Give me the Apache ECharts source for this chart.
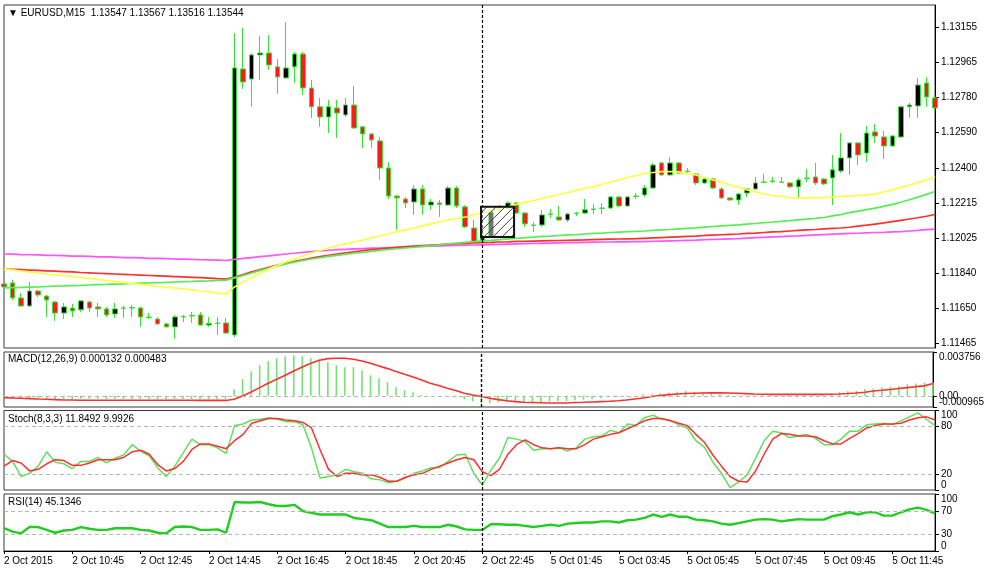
<!DOCTYPE html>
<html><head><meta charset="utf-8">
<script src="https://cdn.jsdelivr.net/npm/echarts@6/dist/echarts.min.js"></script>
<style>html,body{margin:0;padding:0;background:#fff}#c{width:987px;height:571px}</style>
</head><body><div id="c"></div>
<script>
const FONT = 'Liberation Sans, Arial, DejaVu Sans, sans-serif';
const headerText = '\u25BC EURUSD,M15  1.13547 1.13567 1.13516 1.13544';
const macdTitle = 'MACD(12,26,9) 0.000132 0.000483';
const stochTitle = 'Stoch(8,3,3) 11.8492 9.9926';
const rsiTitle = 'RSI(14) 45.1346';

// bar sessions: [day label, first bar minute of day, number of bars]
const sessions = [['2 Oct', 8 * 60 + 45, 61], ['5 Oct', 60, 49]];
const xTickLabels = ['2 Oct 2015', '2 Oct 10:45', '2 Oct 12:45', '2 Oct 14:45', '2 Oct 16:45', '2 Oct 18:45', '2 Oct 20:45',
  '2 Oct 22:45', '5 Oct 01:45', '5 Oct 03:45', '5 Oct 05:45', '5 Oct 07:45', '5 Oct 09:45', '5 Oct 11:45'];
const xTickEvery = 8;

const priceTicks = [1.13155, 1.12965, 1.12780, 1.12590, 1.12400, 1.12215, 1.12025, 1.11840, 1.11650, 1.11465];
const priceRange = [1.11438, 1.13273];
const macdRange = [-0.000965, 0.003756];
const macdZeroTick = [0];
const stochTicks = [0, 20, 80, 100];
const stochLevels = [20, 80];
const rsiTicks = [0, 30, 70, 100];
const rsiLevels = [30, 70];

// [open, close, low, high]
const ohlc = [
[1.11781,1.11765,1.11749,1.11797],[1.11786,1.11706,1.11695,1.11802],[1.11706,1.11663,1.11658,1.11732],[1.11663,1.11743,1.11658,1.11791],
[1.11743,1.11722,1.11711,1.11749],[1.11716,1.11695,1.11604,1.11722],[1.11684,1.11625,1.11583,1.11690],[1.11625,1.11658,1.11593,1.11679],
[1.11652,1.11636,1.11604,1.11674],[1.11642,1.11690,1.11631,1.11695],[1.11684,1.11652,1.11631,1.11690],[1.11658,1.11647,1.11604,1.11679],
[1.11647,1.11615,1.11604,1.11658],[1.11620,1.11647,1.11599,1.11679],[1.11652,1.11650,1.11599,1.11663],[1.11652,1.11655,1.11604,1.11668],
[1.11652,1.11604,1.11551,1.11658],[1.11604,1.11601,1.11593,1.11625],[1.11593,1.11567,1.11561,1.11604],[1.11567,1.11551,1.11548,1.11572],
[1.11551,1.11604,1.11486,1.11615],[1.11604,1.11607,1.11577,1.11615],[1.11609,1.11612,1.11572,1.11631],[1.11615,1.11561,1.11556,1.11631],
[1.11561,1.11569,1.11551,1.11604],[1.11572,1.11569,1.11508,1.11604],[1.11572,1.11518,1.11513,1.11599],[1.11508,1.12936,1.11497,1.13123],
[1.12931,1.12861,1.12824,1.13150],[1.12877,1.13006,1.12728,1.13016],[1.13006,1.13016,1.12872,1.13107],[1.13016,1.12952,1.12926,1.13113],
[1.12942,1.12888,1.12797,1.12984],[1.12883,1.12936,1.12877,1.13182],[1.12942,1.13011,1.12856,1.13022],[1.13011,1.12829,1.12792,1.13022],
[1.12829,1.12728,1.12669,1.12872],[1.12728,1.12674,1.12621,1.12776],[1.12674,1.12728,1.12588,1.12765],[1.12722,1.12695,1.12562,1.12765],
[1.12685,1.12738,1.12674,1.12776],[1.12738,1.12615,1.12610,1.12840],[1.12621,1.12583,1.12508,1.12626],[1.12583,1.12551,1.12508,1.12588],
[1.12546,1.12401,1.12337,1.12567],[1.12401,1.12251,1.12235,1.12433],[1.12251,1.12241,1.12070,1.12257],[1.12235,1.12214,1.12187,1.12246],
[1.12219,1.12289,1.12150,1.12310],[1.12289,1.12203,1.12150,1.12310],[1.12203,1.12219,1.12177,1.12235],[1.12214,1.12206,1.12139,1.12230],
[1.12203,1.12294,1.12198,1.12305],[1.12294,1.12198,1.12187,1.12305],[1.12193,1.12086,1.12080,1.12203],[1.12080,1.12005,1.12000,1.12123],
[1.12005,1.12032,1.12000,1.12053],[1.12032,1.12166,1.12027,1.12177],[1.12193,1.12182,1.12171,1.12203],[1.12187,1.12214,1.12182,1.12225],
[1.12214,1.12160,1.12155,1.12219],[1.12160,1.12102,1.12086,1.12166],[1.12096,1.12094,1.12059,1.12112],[1.12096,1.12150,1.12086,1.12177],
[1.12155,1.12152,1.12134,1.12182],[1.12139,1.12123,1.12118,1.12198],[1.12123,1.12155,1.12112,1.12160],[1.12160,1.12158,1.12144,1.12166],
[1.12160,1.12177,1.12155,1.12235],[1.12182,1.12179,1.12155,1.12209],[1.12187,1.12185,1.12155,1.12214],[1.12187,1.12246,1.12182,1.12251],
[1.12246,1.12198,1.12193,1.12251],[1.12198,1.12246,1.12193,1.12251],[1.12251,1.12249,1.12235,1.12267],[1.12257,1.12294,1.12246,1.12310],
[1.12294,1.12417,1.12289,1.12428],[1.12428,1.12364,1.12358,1.12433],[1.12364,1.12428,1.12358,1.12460],[1.12428,1.12374,1.12369,1.12433],
[1.12385,1.12382,1.12374,1.12401],[1.12369,1.12321,1.12310,1.12374],[1.12321,1.12342,1.12316,1.12348],[1.12342,1.12294,1.12289,1.12348],
[1.12289,1.12241,1.12235,1.12300],[1.12241,1.12230,1.12225,1.12246],[1.12230,1.12262,1.12203,1.12267],[1.12267,1.12289,1.12246,1.12294],
[1.12289,1.12321,1.12284,1.12353],[1.12326,1.12324,1.12321,1.12369],[1.12332,1.12329,1.12321,1.12353],[1.12326,1.12324,1.12321,1.12353],
[1.12321,1.12300,1.12294,1.12326],[1.12300,1.12337,1.12241,1.12348],[1.12348,1.12345,1.12326,1.12396],[1.12353,1.12321,1.12310,1.12428],
[1.12342,1.12316,1.12310,1.12348],[1.12348,1.12391,1.12203,1.12471],[1.12385,1.12455,1.12374,1.12588],[1.12455,1.12535,1.12364,1.12540],
[1.12535,1.12471,1.12417,1.12540],[1.12481,1.12588,1.12433,1.12626],[1.12594,1.12572,1.12535,1.12637],[1.12567,1.12519,1.12449,1.12599],
[1.12519,1.12572,1.12514,1.12578],[1.12567,1.12728,1.12562,1.12733],[1.12728,1.12738,1.12669,1.12749],[1.12733,1.12845,1.12669,1.12883],
[1.12856,1.12781,1.12728,1.12888],[1.12776,1.12722,1.12712,1.12792]
];

const maYellow = [1.11861,1.11856,1.11850,1.11845,1.11839,1.11834,1.11829,1.11826,1.11821,1.11815,1.11810,1.11805,1.11799,1.11794,1.11789,1.11783,1.11778,1.11773,1.11767,1.11762,1.11759,1.11754,1.11749,1.11743,1.11738,1.11732,1.11727,
1.11765,1.11791,1.11815,1.11839,1.11861,1.11880,1.11898,1.11914,1.11930,1.11946,1.11960,1.11973,1.11984,1.11995,1.12005,1.12016,1.12027,1.12037,1.12048,1.12059,1.12070,1.12080,1.12091,1.12102,1.12112,1.12123,1.12131,1.12139,1.12150,1.12160,
1.12171,1.12182,1.12193,1.12206,1.12217,1.12227,1.12238,1.12249,1.12259,1.12270,1.12281,1.12292,1.12302,1.12313,1.12326,1.12337,1.12350,1.12361,1.12372,1.12377,1.12382,1.12382,1.12380,1.12372,
1.12364,1.12350,1.12337,1.12324,1.12310,1.12297,1.12284,1.12273,1.12262,1.12254,1.12249,1.12243,1.12241,1.12241,1.12241,1.12243,1.12246,1.12249,1.12251,1.12254,1.12257,1.12262,1.12273,1.12284,1.12297,1.12310,1.12324,1.12337,1.12353];

const maGreen = [1.11759,1.11761,1.11762,1.11764,1.11765,1.11767,1.11769,1.11770,1.11772,1.11773,1.11775,1.11777,1.11778,1.11780,1.11781,1.11783,1.11785,1.11786,1.11788,1.11789,1.11791,1.11793,1.11794,1.11796,1.11797,1.11799,1.11801,
1.11813,1.11826,1.11839,1.11853,1.11865,1.11877,1.11888,1.11897,1.11906,1.11914,1.11921,1.11928,1.11934,1.11940,1.11945,1.11950,1.11955,1.11960,1.11965,1.11969,1.11973,1.11977,1.11982,1.11986,1.11990,1.11995,1.11999,1.12003,1.12007,1.12011,
1.12014,1.12018,1.12022,1.12025,1.12028,1.12031,1.12035,1.12037,1.12040,1.12043,1.12045,1.12048,1.12051,1.12053,1.12056,1.12058,1.12060,1.12062,1.12064,1.12067,1.12070,1.12072,1.12075,1.12078,
1.12081,1.12085,1.12088,1.12091,1.12094,1.12097,1.12101,1.12104,1.12108,1.12112,1.12115,1.12119,1.12123,1.12127,1.12131,1.12136,1.12145,1.12152,1.12162,1.12170,1.12178,1.12186,1.12196,1.12206,1.12218,1.12231,1.12245,1.12260,1.12275];

const maRed = [1.11861,1.11859,1.11857,1.11855,1.11853,1.11851,1.11849,1.11847,1.11845,1.11842,1.11840,1.11838,1.11836,1.11834,1.11832,1.11830,1.11828,1.11826,1.11824,1.11822,1.11820,1.11818,1.11816,1.11814,1.11812,1.11809,1.11807,
1.11818,1.11831,1.11845,1.11858,1.11870,1.11881,1.11891,1.11901,1.11910,1.11919,1.11927,1.11934,1.11941,1.11947,1.11953,1.11959,1.11964,1.11968,1.11972,1.11976,1.11980,1.11983,1.11986,1.11989,1.11991,1.11994,1.11996,1.11998,1.12000,1.12002,
1.12003,1.12005,1.12006,1.12008,1.12009,1.12010,1.12011,1.12012,1.12013,1.12014,1.12015,1.12016,1.12018,1.12019,1.12020,1.12021,1.12022,1.12023,1.12025,1.12027,1.12029,1.12031,1.12033,1.12035,
1.12037,1.12040,1.12042,1.12044,1.12046,1.12048,1.12051,1.12053,1.12056,1.12059,1.12061,1.12064,1.12067,1.12070,1.12072,1.12075,1.12078,1.12080,1.12084,1.12090,1.12095,1.12101,1.12107,1.12114,1.12121,1.12128,1.12135,1.12143,1.12152];

const maMagenta = [1.11941,1.11940,1.11938,1.11937,1.11936,1.11934,1.11933,1.11932,1.11930,1.11929,1.11928,1.11926,1.11925,1.11924,1.11922,1.11921,1.11920,1.11918,1.11917,1.11916,1.11914,1.11913,1.11912,1.11910,1.11909,1.11908,1.11906,
1.11912,1.11917,1.11922,1.11927,1.11931,1.11936,1.11941,1.11945,1.11950,1.11954,1.11958,1.11961,1.11964,1.11966,1.11968,1.11970,1.11972,1.11973,1.11975,1.11976,1.11978,1.11980,1.11981,1.11983,1.11984,1.11986,1.11987,1.11988,1.11989,1.11990,
1.11991,1.11992,1.11994,1.11995,1.11996,1.11997,1.11998,1.11999,1.12000,1.12001,1.12002,1.12003,1.12004,1.12005,1.12005,1.12006,1.12006,1.12007,1.12007,1.12009,1.12010,1.12011,1.12012,1.12014,
1.12015,1.12017,1.12019,1.12020,1.12022,1.12023,1.12026,1.12028,1.12030,1.12032,1.12034,1.12036,1.12038,1.12041,1.12043,1.12045,1.12047,1.12049,1.12051,1.12052,1.12054,1.12056,1.12057,1.12059,1.12061,1.12064,1.12067,1.12071,1.12074];

const macdHist = [-0.00018,-0.00022,-0.00026,-0.00026,-0.00025,-0.00026,-0.00028,-0.00028,-0.00028,-0.00026,-0.00026,-0.00026,-0.00027,-0.00027,-0.00027,-0.00027,-0.00028,-0.00028,-0.00029,-0.00030,-0.00029,-0.00028,-0.00028,-0.00028,-0.00029,-0.00029,-0.00030,
0.00056,0.00142,0.00210,0.00262,0.00296,0.00322,0.00339,0.00347,0.00339,0.00322,0.00313,0.00287,0.00262,0.00245,0.00245,0.00219,0.00176,0.00150,0.00116,0.00073,0.00047,0.00030,0.00010,0.00003,-0.00003,0.00002,-0.00013,-0.00030,-0.00047,-0.00064,
-0.00064,-0.00056,-0.00056,-0.00056,-0.00060,-0.00060,-0.00056,-0.00050,-0.00047,-0.00047,-0.00039,-0.00034,-0.00030,-0.00021,-0.00013,-0.00009,-0.00004,0.00002,0.00010,0.00012,0.00020,0.00027,0.00036,0.00041,
0.00033,0.00033,0.00027,0.00021,0.00010,0.00005,0.00003,0.00005,0.00008,0.00010,0.00010,0.00008,0.00010,0.00012,0.00012,0.00010,0.00020,0.00030,0.00039,0.00041,0.00056,0.00062,0.00070,0.00076,0.00084,0.00099,0.00105,0.00113,0.00113];

const macdSignal = [-0.00016,-0.00019,-0.00022,-0.00025,-0.00028,-0.00030,-0.00033,-0.00036,-0.00037,-0.00038,-0.00038,-0.00039,-0.00039,-0.00039,-0.00039,-0.00039,-0.00039,-0.00039,-0.00039,-0.00039,-0.00039,-0.00039,-0.00039,-0.00040,-0.00040,-0.00040,-0.00040,
-0.00030,-0.00002,0.00033,0.00070,0.00107,0.00142,0.00176,0.00213,0.00247,0.00279,0.00305,0.00319,0.00322,0.00322,0.00313,0.00299,0.00279,0.00256,0.00233,0.00208,0.00184,0.00161,0.00136,0.00107,0.00088,0.00064,0.00045,0.00021,0.00007,-0.00007,
-0.00021,-0.00033,-0.00043,-0.00050,-0.00056,-0.00058,-0.00060,-0.00062,-0.00062,-0.00062,-0.00058,-0.00056,-0.00053,-0.00050,-0.00047,-0.00043,-0.00036,-0.00028,-0.00019,-0.00007,0.00002,0.00010,0.00015,0.00019,
0.00022,0.00024,0.00025,0.00025,0.00024,0.00021,0.00018,0.00015,0.00013,0.00012,0.00012,0.00012,0.00012,0.00012,0.00012,0.00012,0.00013,0.00015,0.00019,0.00024,0.00030,0.00041,0.00047,0.00054,0.00062,0.00070,0.00078,0.00085,0.00105];

const stochMain = [45,36,17,21,30,48,35,33,27,36,36,41,34,40,44,57,49,43,28,17,30,47,64,57,57,53,46,
81,83,88,89,91,89,86,86,82,53,15,17,19,26,23,21,14,13,9,11,15,21,24,28,28,36,44,45,21,6,
25,40,66,64,61,50,52,52,53,49,53,64,67,68,75,72,83,81,91,94,89,88,82,78,
62,54,35,21,3,10,19,40,62,74,72,66,68,70,65,57,57,64,74,74,82,83,84,82,87,92,97,89,81];

const stochSignal = [30,37,34,24,26,33,38,37,31,31,34,38,38,38,41,48,50,45,32,24,27,36,51,58,58,55,52,
62,70,84,87,90,90,88,87,85,78,51,26,17,21,21,19,19,16,11,11,16,19,21,26,30,34,38,41,38,23,
18,26,45,57,63,57,53,52,53,52,52,57,64,67,70,72,77,82,87,90,90,87,84,81,
70,60,44,30,17,11,10,24,45,64,71,70,68,68,67,62,58,58,65,71,78,81,83,83,84,88,91,92,88];

const rsi = [40,34,31,42,42,37,32,36,37,42,39,37,37,40,40,40,37,36,32,31,42,43,42,37,37,38,32,
86,85,85,86,82,79,79,81,70,67,64,64,64,64,58,56,54,48,42,42,42,44,42,42,42,46,43,38,37,37,
47,47,46,46,44,42,44,46,44,48,49,50,50,52,52,50,54,55,58,64,60,64,60,60,
55,54,52,48,46,49,52,55,56,55,52,54,56,55,55,55,61,64,68,64,68,68,62,62,68,73,76,72,66];

const crossIndex = 56;
// hatched rectangle: [bar from, bar to, price top, price bottom]
const boxRect = [55.85, 59.72, 1.12193, 1.12032];

// ---- build category times ----
const times = [];
sessions.forEach(([day, start, n]) => {
  for (let k = 0; k < n; k++) {
    const m = start + 15 * k;
    const hh = String(Math.floor(m / 60)).padStart(2, '0');
    const mm = String(m % 60).padStart(2, '0');
    times.push(day + ' ' + hh + ':' + mm);
  }
});

const GREEN = '#33e633';
const LEFT = 4, WIDTH = 931;
const grids = [
  { left: LEFT, width: WIDTH, top: 5, height: 343 },
  { left: LEFT, width: WIDTH, top: 352, height: 55 },
  { left: LEFT, width: WIDTH, top: 410.5, height: 79.5 },
  { left: LEFT, width: WIDTH, top: 494, height: 57 }
].map(g => Object.assign(g, { show: true, borderColor: '#3a3a3a', borderWidth: 1 }));

const tickShow = (idx) => idx % xTickEvery === 0;
const xAxes = grids.map((g, k) => ({
  type: 'category', gridIndex: k, data: times, boundaryGap: false,
  axisLine: { show: k === 3, lineStyle: { color: '#000' } },
  axisTick: { show: k === 3, interval: tickShow, length: 3, lineStyle: { color: '#000' } },
  axisLabel: {
    show: k === 3, interval: tickShow, align: 'left', margin: 5,
    fontSize: 10, color: '#000', fontFamily: FONT,
    formatter: (v, idx) => xTickLabels[Math.round(idx / xTickEvery)] || ''
  },
  splitLine: { show: false }
}));

function yAx(k, min, max, ticks, fmt, edge) {
  return {
    type: 'value', gridIndex: k, position: 'right', min, max, scale: true,
    axisLine: { show: true, lineStyle: { color: '#000' } },
    axisTick: { show: true, length: 4, customValues: ticks, lineStyle: { color: '#000' } },
    axisLabel: {
      customValues: ticks, formatter: fmt, margin: 6, fontSize: 10, color: '#000', fontFamily: FONT,
      showMinLabel: true, showMaxLabel: true, hideOverlap: false,
      verticalAlignMinLabel: edge ? 'bottom' : 'middle', verticalAlignMaxLabel: edge ? 'top' : 'middle'
    },
    splitLine: { show: false }
  };
}
const zeroAxis = yAx(1, macdRange[0], macdRange[1], macdZeroTick, () => '0.00', false);
zeroAxis.axisLine = { show: false };
zeroAxis.axisLabel.verticalAlign = 'bottom';
zeroAxis.axisLabel.padding = [0, 0, -4, 0];
const yAxes = [
  yAx(0, priceRange[0], priceRange[1], priceTicks, v => v.toFixed(5), false),
  yAx(1, macdRange[0], macdRange[1], macdRange, v => v.toFixed(6), true),
  yAx(2, 0, 100, stochTicks, v => String(v), true),
  yAx(3, 0, 100, rsiTicks, v => String(v), true),
  zeroAxis
];

const vLine = {
  silent: true, symbol: 'none', animation: false, label: { show: false },
  lineStyle: { color: '#000', type: [3, 2], width: 1.2 },
  data: [{ xAxis: times[crossIndex] }]
};
function levelLines(vals) {
  return vals.map(v => ({ yAxis: v, lineStyle: { color: '#b8b8b8', type: [4, 3], width: 1 } }))
    .concat([{ xAxis: times[crossIndex], lineStyle: { color: '#000', type: [3, 2], width: 1.2 } }]);
}
function ml(vals) {
  return { silent: true, symbol: 'none', animation: false, label: { show: false }, data: levelLines(vals) };
}
function maLine(data, color) {
  return { type: 'line', xAxisIndex: 0, yAxisIndex: 0, data, symbol: 'none', smooth: false,
    lineStyle: { color, width: 1.7 }, z: 3, silent: true };
}

const option = {
  animation: false,
  backgroundColor: '#fff',
  title: [
    { text: headerText, left: 8, top: 8 },
    { text: macdTitle, left: 8, top: 354 },
    { text: stochTitle, left: 8, top: 414.5 },
    { text: rsiTitle, left: 8, top: 497.5 }
  ].map(t => Object.assign(t, { padding: 0, textStyle: { fontSize: 10, fontWeight: 'normal', color: '#000', fontFamily: FONT } })),
  grid: grids,
  xAxis: xAxes,
  yAxis: yAxes,
  series: [
    {
      type: 'candlestick', xAxisIndex: 0, yAxisIndex: 0, data: ohlc, barWidth: 5, z: 2,
      itemStyle: { color: '#000', color0: '#ff1a1a', borderColor: GREEN, borderColor0: GREEN, borderColorDoji: GREEN, borderWidth: 1 },
      markLine: vLine
    },
    maLine(maMagenta, '#ff55ff'),
    maLine(maRed, '#ff3030'),
    maLine(maGreen, '#55ee55'),
    maLine(maYellow, '#ffff44'),
    {
      type: 'custom', xAxisIndex: 0, yAxisIndex: 0, z: 5, silent: true,
      data: [boxRect],
      renderItem: (params, api) => {
        const a = api.value(0), b = api.value(1);
        const bw = api.size([1, 0])[0];
        const pA = api.coord([Math.floor(a), api.value(2)]);
        const pB = api.coord([Math.floor(b), api.value(3)]);
        const x0 = pA[0] + (a - Math.floor(a)) * bw;
        const x1 = pB[0] + (b - Math.floor(b)) * bw;
        const y0 = Math.min(pA[1], pB[1]), y1 = Math.max(pA[1], pB[1]);
        const w = x1 - x0, h = y1 - y0;
        const children = [{ type: 'rect', shape: { x: x0, y: y0, width: w, height: h }, style: { fill: 'rgba(255,255,255,0.45)' } }];
        for (let k = -h + 6; k < w; k += 9) {
          let ax = x0 + k, ay = y1, bx = x0 + k + h, by = y0;
          if (ax < x0) { ay -= (x0 - ax); ax = x0; }
          if (bx > x1) { by += (bx - x1); bx = x1; }
          children.push({ type: 'line', shape: { x1: ax, y1: ay, x2: bx, y2: by }, style: { stroke: '#444', lineWidth: 1 } });
        }
        children.push({ type: 'rect', shape: { x: x0, y: y0, width: w, height: h }, style: { fill: 'none', stroke: '#111', lineWidth: 2 } });
        return { type: 'group', children };
      }
    },
    {
      type: 'bar', xAxisIndex: 1, yAxisIndex: 1, data: macdHist, barWidth: 1.6, silent: true,
      itemStyle: { color: '#74e274' }, markLine: vLine
    },
    {
      type: 'line', xAxisIndex: 1, yAxisIndex: 1, data: macdSignal, symbol: 'none', silent: true,
      lineStyle: { color: '#ff3030', width: 1.6 }, markLine: ml([0])
    },
    {
      type: 'line', xAxisIndex: 2, yAxisIndex: 2, data: stochMain, symbol: 'none', silent: true,
      lineStyle: { color: '#5fe05f', width: 1.5 }, markLine: ml(stochLevels)
    },
    {
      type: 'line', xAxisIndex: 2, yAxisIndex: 2, data: stochSignal, symbol: 'none', silent: true,
      lineStyle: { color: '#ff3030', width: 1.5 }
    },
    {
      type: 'line', xAxisIndex: 3, yAxisIndex: 3, data: rsi, symbol: 'none', silent: true,
      lineStyle: { color: '#22cc22', width: 2.4 }, markLine: ml(rsiLevels)
    }
  ]
};
const chart = echarts.init(document.getElementById('c'), null, { renderer: 'canvas' });
chart.setOption(option);
</script>
</body></html>
